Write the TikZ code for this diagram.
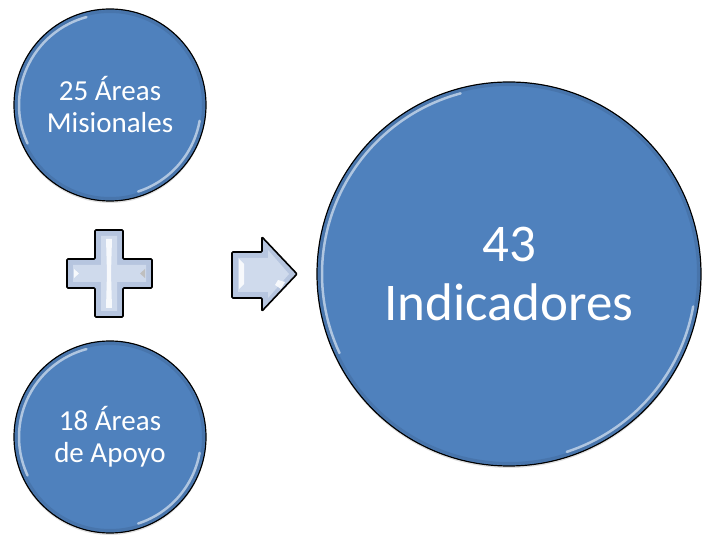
\documentclass[tikz,border=0pt]{standalone}
\usepackage{fontspec}
\setmainfont{Carlito}
\usetikzlibrary{positioning,shadows}

\definecolor{areablue}{HTML}{4F81BD}
\definecolor{bevelfill}{HTML}{B6C5DF}
\definecolor{bevellight}{HTML}{CFDAEC}

\begin{document}
\begin{tikzpicture}[
	x=1pt,y=1pt,
	area/.style={circle,draw=black,line width=1.2pt,fill=areablue,text=white,align=center,inner sep=0pt,
		drop shadow={opacity=0.25,shadow xshift=0pt,shadow yshift=-2pt}},
	small area/.style={area,minimum size=192pt,font=\fontsize{29}{32}\selectfont},
	big area/.style={area,minimum size=384pt,font=\fontsize{53}{59}\selectfont},
	rim/.style={areablue!75!black,line width=3pt,opacity=0.35},
	gloss/.style={white,line width=2.5pt,opacity=0.55,line cap=round},
	bevel/.style={draw=black,line width=1.6pt,fill=bevelfill,rounded corners=1pt},
	facet/.style={fill=bevellight},
	shine/.style={white,opacity=0.85}
	]
	\useasboundingbox (0,0) rectangle (705,539);

	% the three circles
	\node[small area] (mision) at (110,434) {25 Áreas\\Misionales};
	\node[small area] (apoyo) at (110,102) {18 Áreas\\de Apoyo};
	\node[big area] (indic) at (509,265) {43\\Indicadores};

	\foreach \c/\r in {mision/96,apoyo/96,indic/192}
		{
		\draw[rim] (\c.center) circle ({\r-2.5});
		\draw[gloss] ([shift={(105:\r-5)}]\c.center) arc (105:205:\r-5);
		\draw[gloss] ([shift={(-10:\r-5)}]\c.center) arc (-10:-72:\r-5);
		}

	% plus sign
	\draw[bevel] (95,309) -- (123,309) -- (123,280) -- (152,280) -- (152,251) -- (123,251)
		-- (123,222) -- (95,222) -- (95,251) -- (67,251) -- (67,280) -- (95,280) -- cycle;
	\fill[facet] (101,303) -- (117,303) -- (117,274) -- (146,274) -- (146,257) -- (117,257)
		-- (117,228) -- (101,228) -- (101,257) -- (73,257) -- (73,274) -- (101,274) -- cycle;
	\fill[shine] (106,300) -- (112,300) -- (111,266) -- (112,231) -- (106,231) -- (107,266) -- cycle;
	\fill[shine] (74,261) -- (79,265.5) -- (74,270) -- cycle;
	\fill[black!25] (145,261) -- (140,265.5) -- (145,270) -- cycle;

	% arrow
	\draw[bevel] (232,287) -- (262,287) -- (262,302) -- (297,265) -- (262,228)
		-- (262,241) -- (232,241) -- cycle;
	\fill[facet] (238,281) -- (268,281) -- (268,289) -- (289,265) -- (268,241)
		-- (268,247) -- (238,247) -- cycle;
	\fill[shine] (239,280) -- (244,275) -- (244,255) -- (239,250) -- cycle;
	\fill[shine] (275,254) -- (281,250) -- (285,257) -- (278,259) -- cycle;
\end{tikzpicture}
\end{document}
